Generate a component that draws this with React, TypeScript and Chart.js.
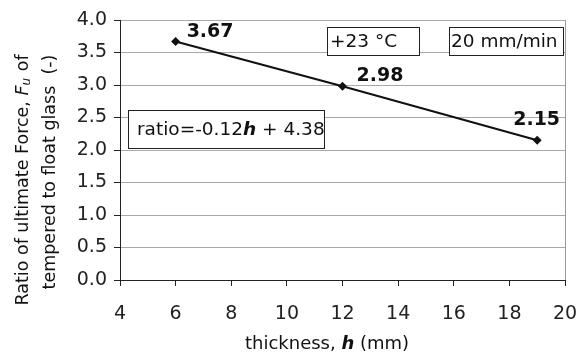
import React, { useEffect, useRef } from "react";
import { Chart, registerables } from "chart.js";

Chart.register(...registerables);

const thickness = [6, 12, 19];
const ratio = [3.67, 2.98, 2.15];
const pointLabels = ["3.67", "2.98", "2.15"];
const xMin = 4, xMax = 20, xStep = 2;
const yMin = 0, yMax = 4, yStep = 0.5;
const FONT = "DejaVu Sans";

type Seg = { t: string; f: string };

function segWidth(ctx: CanvasRenderingContext2D, segs: Seg[]) {
  let w = 0;
  for (const s of segs) { ctx.font = s.f; w += ctx.measureText(s.t).width; }
  return w;
}
function drawSegs(ctx: CanvasRenderingContext2D, segs: Seg[], x: number, y: number) {
  let cx = x;
  for (const s of segs) {
    ctx.font = s.f;
    ctx.fillText(s.t, cx, y);
    cx += ctx.measureText(s.t).width;
  }
}

const decorPlugin = {
  id: "decor",
  afterDraw(chart: any) {
    const ctx: CanvasRenderingContext2D = chart.ctx;
    const ca = chart.chartArea;
    ctx.save();
    // right border
    ctx.strokeStyle = "#9a9a9a";
    ctx.lineWidth = 1;
    ctx.beginPath();
    ctx.moveTo(Math.round(ca.right) + 0.5, ca.top);
    ctx.lineTo(Math.round(ca.right) + 0.5, ca.bottom);
    ctx.stroke();

    ctx.fillStyle = "#111";
    ctx.textBaseline = "middle";
    // point labels
    const meta = chart.getDatasetMeta(0);
    const offs = [[11, -9], [14, -10], [-24, -20]];
    ctx.font = `bold 19px ${FONT}`;
    ctx.textAlign = "left";
    meta.data.forEach((pt: any, i: number) => {
      ctx.fillText(pointLabels[i], pt.x + offs[i][0], pt.y + offs[i][1]);
    });

    // boxes
    const reg = `18.5px ${FONT}`;
    const boxes: { x: number; y: number; w: number; h: number; pad: number; segs: Seg[] }[] = [
      { x: ca.left + 207, y: ca.top + 7, w: 92, h: 28, pad: 3, segs: [{ t: "+23 °C", f: reg }] },
      { x: ca.left + 329, y: ca.top + 7, w: 114, h: 28, pad: 2, segs: [{ t: "20 mm/min", f: reg }] },
      {
        x: ca.left + 8, y: ca.top + 90, w: 196, h: 38, pad: 9,
        segs: [{ t: "ratio=-0.12", f: reg }, { t: "h", f: `italic bold 18.5px ${FONT}` }, { t: " + 4.38", f: reg }],
      },
    ];
    for (const b of boxes) {
      ctx.fillStyle = "#fff";
      ctx.fillRect(b.x, b.y, b.w, b.h);
      ctx.strokeStyle = "#222";
      ctx.strokeRect(Math.round(b.x) + 0.5, Math.round(b.y) + 0.5, b.w, b.h);
      ctx.fillStyle = "#111";
      drawSegs(ctx, b.segs, b.x + b.pad, b.y + b.h / 2 + 1);
    }

    // x title
    const tf = `18px ${FONT}`;
    const xt: Seg[] = [{ t: "thickness, ", f: tf }, { t: "h", f: `italic bold 18px ${FONT}` }, { t: " (mm)", f: tf }];
    const xw = segWidth(ctx, xt);
    drawSegs(ctx, xt, 327 - xw / 2, 344);

    // y title
    const yf = `17.5px ${FONT}`;
    const l1: Seg[] = [{ t: "Ratio of ultimate Force, ", f: yf }, { t: "F", f: `italic 17.5px ${FONT}` }];
    const l1b: Seg[] = [{ t: " of", f: yf }];
    const l2: Seg[] = [{ t: "tempered to float glass  (-)", f: yf }];
    ctx.save();
    ctx.translate(23, 180);
    ctx.rotate(-Math.PI / 2);
    const subF = `italic 12px ${FONT}`;
    ctx.font = subF;
    const subW = ctx.measureText("u").width + 1;
    const w1 = segWidth(ctx, l1) + subW + segWidth(ctx, l1b);
    let sx = -w1 / 2;
    drawSegs(ctx, l1, sx, 0);
    sx += segWidth(ctx, l1);
    ctx.font = subF;
    ctx.fillText("u", sx, 4);
    sx += subW;
    drawSegs(ctx, l1b, sx, 0);
    ctx.restore();
    ctx.save();
    ctx.translate(50, 172);
    ctx.rotate(-Math.PI / 2);
    const w2 = segWidth(ctx, l2);
    drawSegs(ctx, l2, -w2 / 2, 0);
    ctx.restore();

    ctx.restore();
  },
};

export default function App() {
  const ref = useRef<HTMLCanvasElement>(null);
  useEffect(() => {
    document.body.style.margin = "0";
    const chart = new Chart(ref.current!, {
      type: "scatter",
      data: {
        datasets: [
          {
            data: thickness.map((x, i) => ({ x, y: ratio[i] })),
            showLine: true,
            borderColor: "#111",
            backgroundColor: "#111",
            borderWidth: 2,
            pointStyle: "rectRot",
            pointRadius: 4.5,
            pointBorderWidth: 0,
          },
        ],
      },
      options: {
        responsive: false,
        animation: false,
        layout: { padding: { top: 20, right: 15, left: 0, bottom: 0 } },
        plugins: { legend: { display: false }, tooltip: { enabled: false } },
        scales: {
          x: {
            type: "linear",
            min: xMin,
            max: xMax,
            ticks: { stepSize: xStep, color: "#222", font: { family: FONT, size: 19 }, padding: 17 },
            grid: { drawOnChartArea: false, drawTicks: true, tickLength: 6, tickColor: "#222" },
            border: { color: "#222", width: 1 },
            afterFit: (s: any) => { s.height = 74; s.paddingLeft = 0; s.paddingRight = 0; },
          },
          y: {
            min: yMin,
            max: yMax,
            ticks: {
              stepSize: yStep,
              color: "#222",
              font: { family: FONT, size: 19 },
              padding: 7,
              callback: (v: any) => Number(v).toFixed(1),
            },
            grid: { color: "#a8a8a8", tickLength: 6, tickColor: "#222" },
            border: { color: "#222", width: 1 },
            afterFit: (s: any) => { s.width = 120; s.paddingTop = 0; s.paddingBottom = 0; },
          },
        },
      },
      plugins: [decorPlugin],
    });
    return () => chart.destroy();
  }, []);
  return <canvas ref={ref} width={580} height={354} style={{ display: "block" }} />;
}
